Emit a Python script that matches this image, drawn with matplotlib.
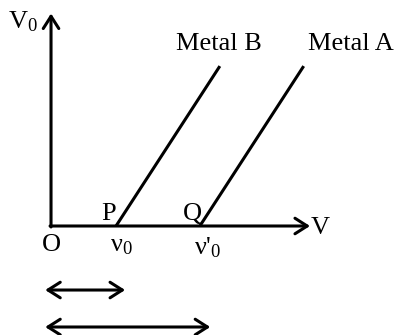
import matplotlib.pyplot as plt

plt.rcParams["font.family"] = ["Liberation Serif", "DejaVu Serif"]
plt.rcParams["mathtext.fontset"] = "custom"
plt.rcParams["mathtext.rm"] = "Liberation Serif"
plt.rcParams["mathtext.it"] = "Liberation Serif"

# threshold frequencies (nu0 for metal B, nu0' for metal A), in axis units
metals = ["Metal B", "Metal A"]
thresholds = [1.0, 2.29]
label_x = [2.58, 4.61]
points = ["P", "Q"]
tick_labels = ["ν$_0$", "ν'$_0$"]
slope = 1.54
v_top = 2.46

fig = plt.figure(figsize=(3.97, 3.35), dpi=100)
ax = fig.add_axes([0, 0, 1, 1])
ax.set_xlim(-0.785, 5.323)
ax.set_ylim(-1.677, 3.477)
ax.axis("off")

lw = 2.2
fs = 19
arrow = dict(arrowstyle="->,head_length=0.55,head_width=0.35", lw=lw,
             color="black", mutation_scale=16, shrinkA=0, shrinkB=0)
# axes
ax.annotate("", xy=(3.985, 0), xytext=(-0.015, 0), arrowprops=arrow)
ax.annotate("", xy=(0, 3.27), xytext=(0, -0.015), arrowprops=arrow)
ax.text(4.0, -0.03, "V", fontsize=fs, va="center", ha="left")
ax.text(-0.66, 3.14, "V$_0$", fontsize=fs, va="center", ha="left")
ax.text(0, -0.12, "O", fontsize=fs, va="top", ha="center")

for name, x0, lx, p, lab in zip(metals, thresholds, label_x, points, tick_labels):
    x1 = x0 + v_top / slope
    ax.plot([x0, x1], [0, v_top], color="black", lw=lw, solid_capstyle="butt")
    ax.text(lx, 2.71, name, fontsize=fs, ha="center", va="baseline")
    ax.text(x0 - 0.12, 0.09, p, fontsize=fs, ha="center", va="baseline")
    ax.text(x0 - 0.09, -0.14, lab, fontsize=fs, ha="left", va="top")

# distance arrows below the axis
darrow = dict(arrow, arrowstyle="<->,head_length=0.55,head_width=0.35")
ax.annotate("", xy=(thresholds[0] + 0.14, -0.985), xytext=(-0.09, -0.985),
            arrowprops=darrow)
ax.annotate("", xy=(thresholds[1] + 0.16, -1.554), xytext=(-0.09, -1.554),
            arrowprops=darrow)

fig.savefig("out.png", dpi=100)
